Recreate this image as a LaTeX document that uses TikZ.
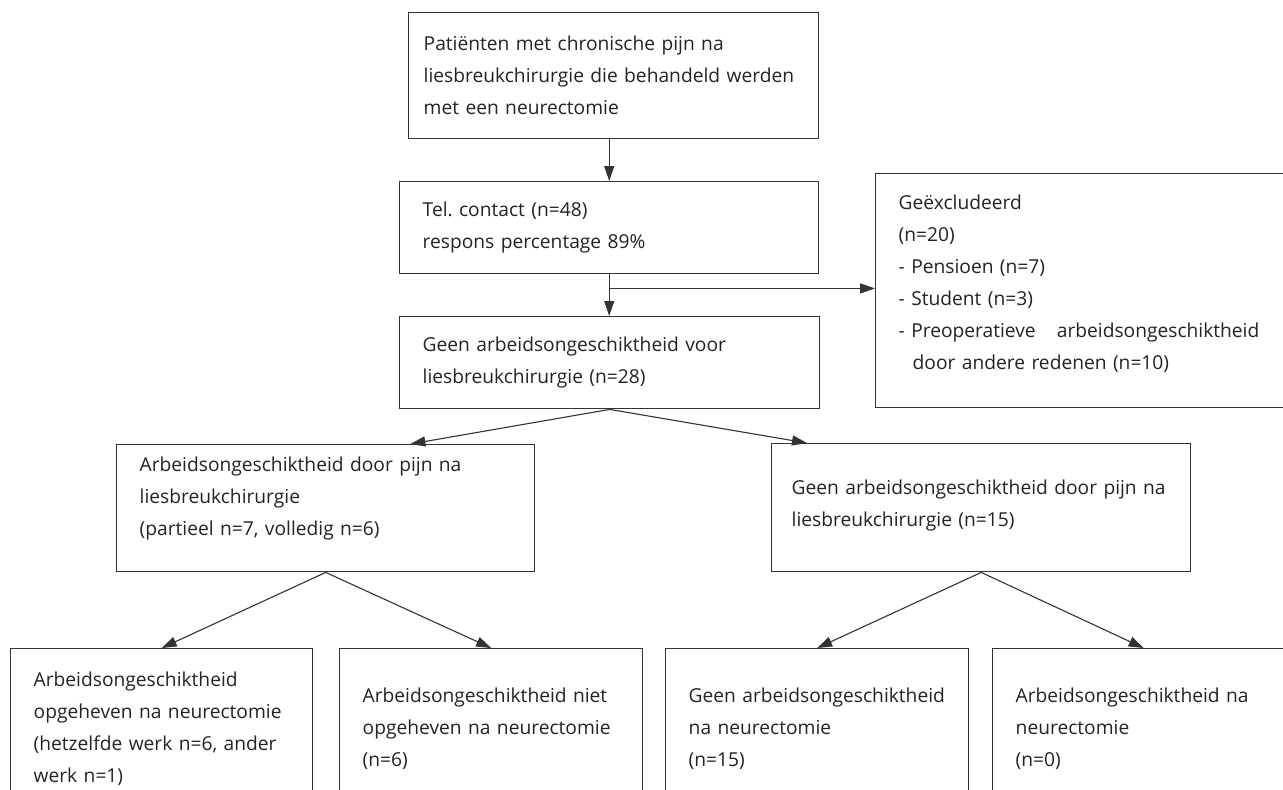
\documentclass[tikz,border=0pt]{standalone}
\usepackage{fontspec}
\setmainfont{Open Sans}
\usetikzlibrary{arrows.meta}
\definecolor{flowline}{RGB}{51,51,51}
\definecolor{flowtext}{RGB}{35,35,35}
\frenchspacing

\begin{document}
\begin{tikzpicture}[
    x=0.5pt, y=-0.5pt,
    box/.style={draw=flowline, line width=0.7pt, anchor=north west, align=left,
      inner xsep=11.5pt, inner ysep=0pt, text=flowtext,
      font=\fontsize{9.6}{16}\selectfont},
    flow/.style={->, draw=flowline, line width=0.55pt},
    >={Triangle[length=7.5pt,width=5pt]}
]
\useasboundingbox (0,0) rectangle (1283,789);
\clip (0,0) rectangle (1283,789);

\node[box, inner xsep=7.5pt, text width=190pt, minimum height=63pt] (patients) at (408,12)
  {Patiënten met chronische pijn na\\liesbreukchirurgie die behandeld werden\\met een neurectomie};
\node[box, text width=186.5pt, minimum height=46pt] (tel) at (399,181)
  {Tel. contact (n=48)\\respons percentage 89\%};
\node[box, text width=187pt, minimum height=46pt] (geen) at (399,316)
  {Geen arbeidsongeschiktheid voor\\liesbreukchirurgie (n=28)};
\node[box, text width=189.5pt, minimum height=117pt] (excl) at (875,173)
  {Geëxcludeerd\\(n=20)\\- Pensioen (n=7)\\- Student (n=3)\\- Preoperatieve\hspace{1.1em}arbeidsongeschiktheid\\\hspace*{7pt}door andere redenen (n=10)\rule[-9pt]{0pt}{0pt}};

\node[box, text width=186pt, minimum height=63.5pt] (lmid) at (116,444)
  {Arbeidsongeschiktheid door pijn na\\liesbreukchirurgie\\(partieel n=7, volledig n=6)\rule[-12pt]{0pt}{0pt}};
\node[box, inner xsep=10pt, text width=189.5pt, minimum height=64pt] (rmid) at (771,443)
  {Geen arbeidsongeschiktheid door pijn na\\liesbreukchirurgie (n=15)\rule[-5pt]{0pt}{0pt}};

\node[box, text width=128pt, minimum height=80pt] (opgeheven) at (10,648)
  {Arbeidsongeschiktheid\\opgeheven na neurectomie\\(hetzelfde werk n=6, ander\\werk n=1)};
\node[box, text width=128.5pt, minimum height=80pt] (nietopgeheven) at (339,648)
  {Arbeidsongeschiktheid niet\\opgeheven na neurectomie\\(n=6)};
\node[box, text width=128.5pt, minimum height=80pt] (geenna) at (665,648)
  {Geen arbeidsongeschiktheid\\na neurectomie\\(n=15)};
\node[box, text width=128pt, minimum height=80pt] (welna) at (992,648)
  {Arbeidsongeschiktheid na\\neurectomie\\(n=0)};

\draw[flow] (patients.south -| tel.north) -- (tel.north);
\draw[flow] (tel.south) -- (tel.south |- geen.north);
\coordinate (split) at ([yshift=-7pt]tel.south);
\draw[flow] (split) -- (split -| excl.west);

\draw[flow] (geen.south) -- ([xshift=-62.5pt]lmid.north east);
\draw[flow] (geen.south) -- ([xshift=18pt]rmid.north west);

\draw[flow] (lmid.south) -- (opgeheven.north);
\draw[flow] (lmid.south) -- (nietopgeheven.north);
\draw[flow] (rmid.south) -- (geenna.north);
\draw[flow] (rmid.south) -- (welna.north);
\end{tikzpicture}
\end{document}
